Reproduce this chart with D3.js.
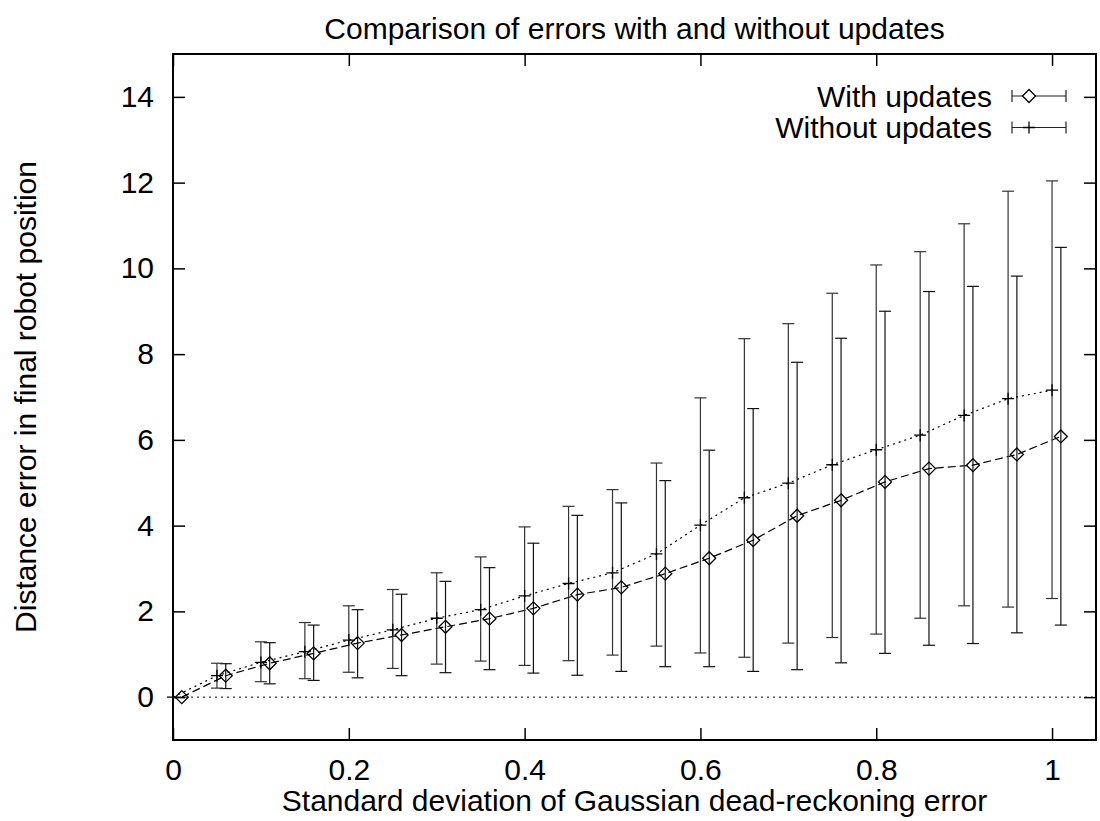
<!DOCTYPE html>
<html><head><meta charset="utf-8">
<script src="https://cdn.jsdelivr.net/npm/d3@7"></script>
<style>
body{margin:0;background:#fff;}
text{font-family:"Liberation Sans",Arial,Helvetica,sans-serif;fill:#000;}
</style></head>
<body>
<svg id="chart" width="1100" height="821"></svg>
<script>
const titleText = "Comparison of errors with and without updates";
const xLabel = "Standard deviation of Gaussian dead-reckoning error";
const yLabel = "Distance error in final robot position";
const xTicks = [0, 0.2, 0.4, 0.6, 0.8, 1];
const yTicks = [0, 2, 4, 6, 8, 10, 12, 14];
const seriesNames = ["With updates", "Without updates"];

const withX  = [0.01,0.06,0.11,0.16,0.21,0.26,0.31,0.36,0.41,0.46,0.51,0.56,0.61,0.66,0.71,0.76,0.81,0.86,0.91,0.96,1.01];
const withY  = [0,0.50,0.79,1.02,1.26,1.45,1.64,1.83,2.07,2.39,2.56,2.88,3.24,3.66,4.23,4.59,5.02,5.33,5.41,5.66,6.08];
const withLo = [0,0.20,0.31,0.39,0.45,0.50,0.57,0.64,0.56,0.51,0.60,0.71,0.71,0.60,0.64,0.80,1.02,1.21,1.25,1.50,1.68];
const withHi = [0,0.78,1.27,1.68,2.04,2.40,2.70,3.02,3.59,4.24,4.53,5.05,5.76,6.73,7.81,8.37,9.00,9.46,9.58,9.82,10.49];

const woX  = [0,0.05,0.10,0.15,0.20,0.25,0.30,0.35,0.40,0.45,0.50,0.55,0.60,0.65,0.70,0.75,0.80,0.85,0.90,0.95,1.00];
const woY  = [0,0.50,0.81,1.06,1.33,1.57,1.84,2.04,2.36,2.65,2.90,3.34,4.01,4.65,4.99,5.42,5.77,6.11,6.57,6.96,7.16];
const woLo = [0,0.21,0.36,0.43,0.58,0.67,0.77,0.84,0.74,0.85,0.98,1.19,1.03,0.93,1.26,1.39,1.47,1.84,2.13,2.10,2.30];
const woHi = [0,0.79,1.29,1.74,2.13,2.51,2.90,3.27,3.97,4.45,4.84,5.46,6.98,8.36,8.71,9.42,10.08,10.39,11.04,11.80,12.04];

const W = 1100, H = 821;
const m = {left:173, right:4, top:54, bottom:81};
const svg = d3.select("#chart");
const x = d3.scaleLinear().domain([0,1.05]).range([m.left, W-m.right]);
const y = d3.scaleLinear().domain([-1,15]).range([H-m.bottom, m.top]);
const FS = 30;

// zero axis
svg.append("line").attr("x1",x(0)).attr("x2",x(1.05)).attr("y1",y(0)).attr("y2",y(0))
  .attr("stroke","#000").attr("stroke-width",1).attr("stroke-dasharray","2,4");

// axes with inward ticks
function styleAxis(g){ g.select(".domain").remove(); g.selectAll(".tick line").attr("stroke","#000").attr("stroke-width",1.5); g.selectAll("text").style("font-size",FS+"px").attr("fill","#000"); }
svg.append("g").attr("transform",`translate(0,${H-m.bottom})`)
  .call(d3.axisBottom(x).tickValues(xTicks).tickSize(-12).tickPadding(19).tickFormat(d3.format("")))
  .call(styleAxis);
svg.append("g").attr("transform",`translate(0,${m.top})`)
  .call(d3.axisTop(x).tickValues(xTicks).tickSize(-12).tickFormat(""))
  .call(styleAxis);
svg.append("g").attr("transform",`translate(${m.left},0)`)
  .call(d3.axisLeft(y).tickValues(yTicks).tickSize(-12).tickPadding(19))
  .call(styleAxis);
svg.append("g").attr("transform",`translate(${W-m.right},0)`)
  .call(d3.axisRight(y).tickValues(yTicks).tickSize(-12).tickFormat(""))
  .call(styleAxis);

svg.selectAll("g").attr("font-family",null);

// border
svg.append("rect").attr("x",x(0)).attr("y",y(15)).attr("width",x(1.05)-x(0)).attr("height",y(-1)-y(15))
  .attr("fill","none").attr("stroke","#000").attr("stroke-width",2);

const cap = 6;
function errBars(xs, lo, hi, color){
  const g = svg.append("g").attr("stroke",color).attr("stroke-width",1.2).attr("fill","none");
  xs.forEach((xv,i)=>{
    if (hi[i]===lo[i]) return;
    const px = x(xv);
    g.append("line").attr("x1",px).attr("x2",px).attr("y1",y(lo[i])).attr("y2",y(hi[i]));
    g.append("line").attr("x1",px-cap).attr("x2",px+cap).attr("y1",y(lo[i])).attr("y2",y(lo[i]));
    g.append("line").attr("x1",px-cap).attr("x2",px+cap).attr("y1",y(hi[i])).attr("y2",y(hi[i]));
  });
}
const dS = 6.5;
function diamond(g, px, py){
  g.append("path").attr("d",`M${px},${py-dS}L${px+dS},${py}L${px},${py+dS}L${px-dS},${py}Z`)
    .attr("fill","none").attr("stroke","#000").attr("stroke-width",1.3);
}
function plus(g, px, py){
  g.append("path").attr("d",`M${px-6},${py}H${px+6}M${px},${py-6}V${py+6}`)
    .attr("fill","none").attr("stroke","#000").attr("stroke-width",1.3);
}

const line = d3.line().x(d=>x(d[0])).y(d=>y(d[1]));

// With updates
errBars(withX, withLo, withHi, "#111");
svg.append("path").datum(withX.map((v,i)=>[v,withY[i]])).attr("d",line)
  .attr("fill","none").attr("stroke","#000").attr("stroke-width",1.2).attr("stroke-dasharray","8,4");
const gw = svg.append("g");
withX.forEach((v,i)=>diamond(gw, x(v), y(withY[i])));

// Without updates
errBars(woX, woLo, woHi, "#333");
svg.append("path").datum(woX.map((v,i)=>[v,woY[i]])).attr("d",line)
  .attr("fill","none").attr("stroke","#000").attr("stroke-width",1.2).attr("stroke-dasharray","2,4");
const gwo = svg.append("g");
woX.forEach((v,i)=>plus(gwo, x(v), y(woY[i])));

// Legend
const legY = [96, 127.5];
const lx1 = 1012, lx2 = 1066, lpx = 1029;
seriesNames.forEach((name,i)=>{
  svg.append("text").attr("x",992).attr("y",legY[i]).attr("dy","0.35em").attr("text-anchor","end")
    .style("font-size",FS+"px").text(name);
  const g = svg.append("g").attr("stroke","#222").attr("stroke-width",1.2);
  g.append("line").attr("x1",lx1).attr("x2",lx2).attr("y1",legY[i]).attr("y2",legY[i]);
  g.append("line").attr("x1",lx1).attr("x2",lx1).attr("y1",legY[i]-6).attr("y2",legY[i]+6);
  g.append("line").attr("x1",lx2).attr("x2",lx2).attr("y1",legY[i]-6).attr("y2",legY[i]+6);
  if (i===0) { const gg = svg.append("g"); gg.append("path").attr("d",`M${lpx},${legY[i]-dS}L${lpx+dS},${legY[i]}L${lpx},${legY[i]+dS}L${lpx-dS},${legY[i]}Z`).attr("fill","#fff").attr("stroke","#000").attr("stroke-width",1.3); }
  else plus(svg.append("g"), lpx, legY[i]);
});

// Titles
svg.append("text").attr("x",(x(0)+x(1.05))/2).attr("y",28).attr("dy","0.35em").attr("text-anchor","middle")
  .style("font-size",FS+"px").text(titleText);
svg.append("text").attr("x",(x(0)+x(1.05))/2).attr("y",800).attr("dy","0.35em").attr("text-anchor","middle")
  .style("font-size",FS+"px").text(xLabel);
svg.append("text").attr("transform",`translate(25,${(y(-1)+y(15))/2}) rotate(-90)`).attr("dy","0.35em").attr("text-anchor","middle")
  .style("font-size",FS+"px").text(yLabel);
</script>
</body></html>
